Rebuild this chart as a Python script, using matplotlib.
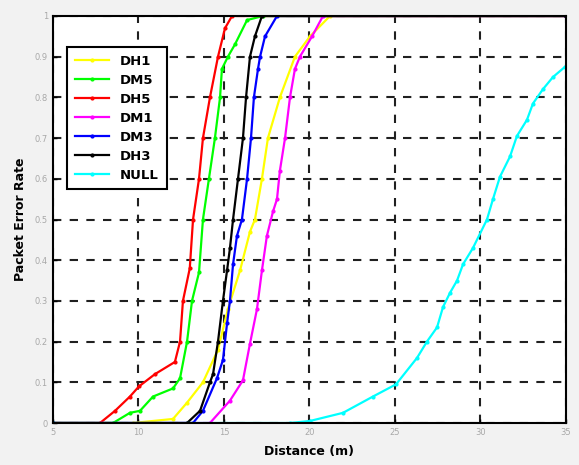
import numpy as np
import matplotlib
matplotlib.use("Agg")
import matplotlib.pyplot as plt

# curves: distance (m) and packet error rate
dh1_x = [5, 9.68, 12.02, 12.84, 13.77, 14.65, 15.23, 15.94, 16.52, 16.81, 17.22, 17.57, 18.27, 19.15, 20.03, 21.2, 35]
dh1_y = [0, 0, 0.01, 0.05, 0.10, 0.18, 0.28, 0.375, 0.47, 0.50, 0.60, 0.70, 0.80, 0.90, 0.95, 1.0, 1.0]

dm5_x = [5, 8.51, 9.5, 10.09, 10.85, 12.02, 12.43, 12.84, 13.13, 13.54, 13.77, 14.12, 14.47, 14.77, 14.88, 15.23, 15.64, 16.35, 17.28, 35]
dm5_y = [0, 0, 0.025, 0.03, 0.065, 0.085, 0.11, 0.20, 0.30, 0.37, 0.50, 0.60, 0.70, 0.80, 0.87, 0.90, 0.93, 0.99, 1.0, 1.0]

dh5_x = [5, 7.75, 8.63, 9.5, 10.03, 10.96, 12.13, 12.43, 12.6, 13.0, 13.19, 13.54, 13.77, 14.18, 14.65, 15.06, 15.47, 35]
dh5_y = [0, 0, 0.03, 0.065, 0.09, 0.12, 0.15, 0.20, 0.30, 0.38, 0.50, 0.60, 0.70, 0.80, 0.90, 0.97, 1.0, 1.0]

dm1_x = [5, 14.18, 15.35, 16.11, 16.52, 16.93, 17.22, 17.51, 17.87, 18.1, 18.27, 18.57, 18.86, 19.15, 19.44, 20.15, 20.79, 35]
dm1_y = [0, 0, 0.055, 0.105, 0.195, 0.28, 0.375, 0.46, 0.52, 0.55, 0.62, 0.70, 0.80, 0.87, 0.90, 0.95, 1.0, 1.0]

dm3_x = [5, 13.19, 13.77, 14.59, 14.94, 15.18, 15.35, 15.53, 15.76, 16.05, 16.35, 16.58, 16.75, 16.99, 17.11, 17.4, 18.1, 35]
dm3_y = [0, 0, 0.03, 0.11, 0.155, 0.245, 0.30, 0.39, 0.46, 0.50, 0.60, 0.70, 0.80, 0.87, 0.90, 0.95, 1.0, 1.0]

dh3_x = [5, 12.84, 13.6, 14.18, 14.36, 14.65, 14.94, 15.18, 15.35, 15.53, 15.82, 16.11, 16.29, 16.52, 16.81, 17.22, 35]
dh3_y = [0, 0, 0.03, 0.10, 0.12, 0.20, 0.30, 0.375, 0.43, 0.50, 0.60, 0.70, 0.80, 0.90, 0.95, 1.0, 1.0]

null_x = [5, 18.86, 20.03, 21.96, 23.71, 25.06, 26.29, 26.87, 27.46, 27.81, 28.22, 28.63, 28.98, 29.56,
          30.38, 30.73, 31.14, 31.73, 32.13, 32.72, 33.07, 33.65, 34.24, 34.94]
null_y = [0, 0, 0.005, 0.025, 0.065, 0.095, 0.16, 0.20, 0.235, 0.285, 0.32, 0.35, 0.39, 0.43,
          0.50, 0.55, 0.605, 0.655, 0.705, 0.745, 0.785, 0.82, 0.85, 0.875]

series = [
    ("DH1", dh1_x, dh1_y, "#ffff00"),
    ("DM5", dm5_x, dm5_y, "#00ff00"),
    ("DH5", dh5_x, dh5_y, "#ff0000"),
    ("DM1", dm1_x, dm1_y, "#ff00ff"),
    ("DM3", dm3_x, dm3_y, "#0000ff"),
    ("DH3", dh3_x, dh3_y, "#000000"),
    ("NULL", null_x, null_y, "#00ffff"),
]

x_ticks = [5, 10, 15, 20, 25, 30, 35]
y_ticks = [0, 0.1, 0.2, 0.3, 0.4, 0.5, 0.6, 0.7, 0.8, 0.9, 1]
y_labels = ["0", "0.1", "0.2", "0.3", "0.4", "0.5", "0.6", "0.7", "0.8", "0.9", "1"]

fig = plt.figure(figsize=(5.79, 4.65), dpi=100, facecolor="#f2f2f2")
ax = fig.add_axes([0.0915, 0.0903, 0.886, 0.8753])
ax.set_facecolor("white")

for name, xs, ys, col in series:
    ax.plot(xs, ys, color=col, lw=1.6, marker=".", ms=4, label=name)

ax.set_xlim(5, 35)
ax.set_ylim(0, 1)
ax.set_xticks(x_ticks)
ax.set_yticks(y_ticks)
ax.set_yticklabels(y_labels)
ax.tick_params(direction="in", labelsize=6, labelcolor="#a8a8a8", length=3, width=1)
ax.grid(True, color="#202020", ls=(0, (4, 4)), lw=1.5)
for sp in ax.spines.values():
    sp.set_linewidth(1.5)

ax.set_xlabel("Distance (m)", fontsize=9, fontweight="bold", labelpad=6)
ax.set_ylabel("Packet Error Rate", fontsize=9, fontweight="bold", labelpad=6)

leg = ax.legend(loc="upper left", bbox_to_anchor=(0.015, 0.94), fancybox=False,
                prop={"size": 9.5, "weight": "bold"},
                framealpha=1, edgecolor="black", handlelength=2.6, borderpad=0.6, labelspacing=0.45)
leg.get_frame().set_linewidth(1.5)

fig.savefig("out.png", dpi=100, facecolor=fig.get_facecolor())
